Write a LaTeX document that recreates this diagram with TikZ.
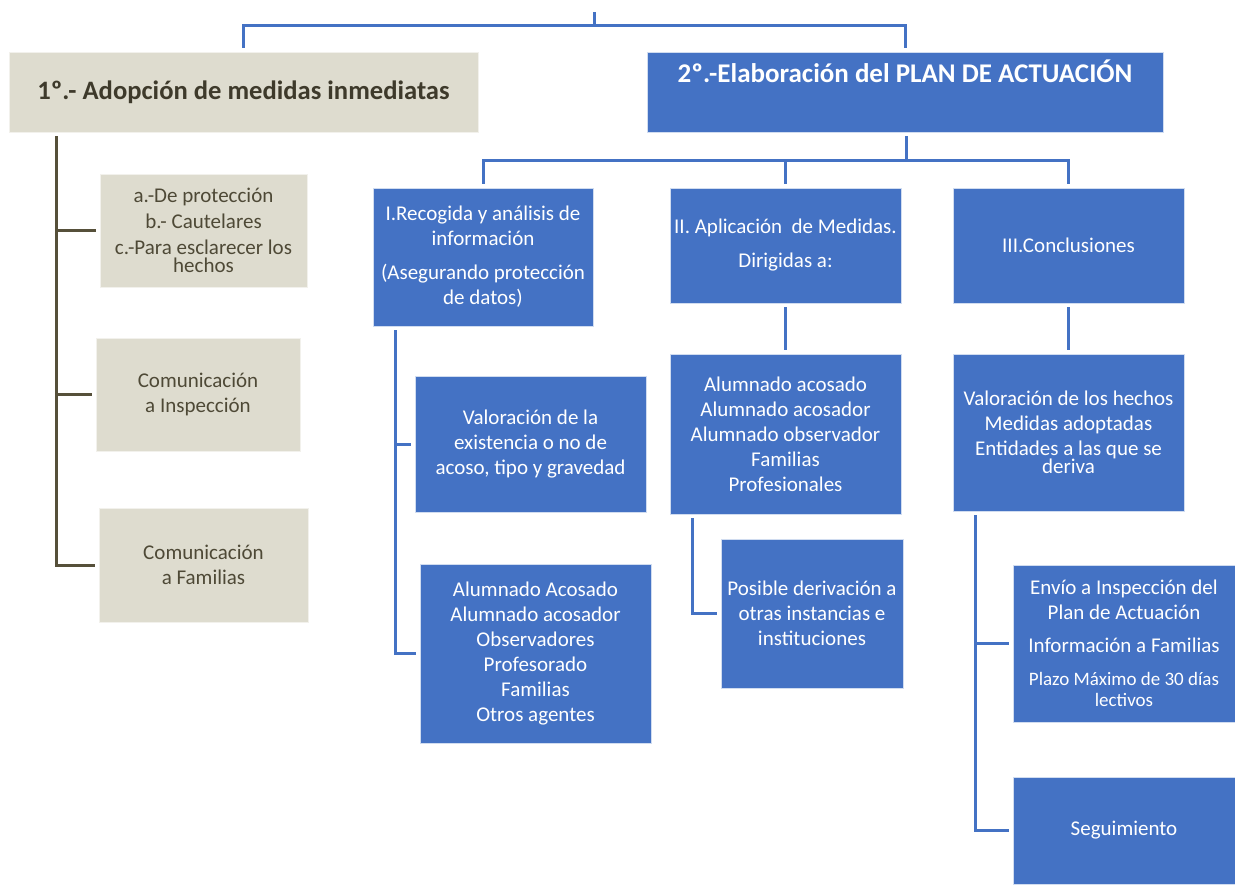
\documentclass[tikz,border=0pt]{standalone}
\usepackage{fontspec}
\setmainfont{Carlito}
\begin{document}
\begin{tikzpicture}[x=0.5pt,y=-0.5pt]
            \definecolor{box_blue}{RGB}{68,114,196}
            \definecolor{box_tan}{RGB}{222,220,207}
            \definecolor{tan_text}{RGB}{78,73,54}
            \definecolor{tan_line}{RGB}{86,80,58}
            \tikzstyle{every node} = [shape=rectangle, inner sep=0pt, align=center, font=\fontsize{10.5}{12.5}\selectfont]
            \tikzstyle{blue_box} = [fill=box_blue, draw=white!75!box_blue, line width=0.4pt, text=white]
            \tikzstyle{tan_box} = [fill=box_tan, draw=white!60!box_tan, line width=0.4pt, text=tan_text]
            \tikzstyle{blue_line} = [draw=box_blue, line width=1.5pt, shorten >=2pt]
            \tikzstyle{tan_line} = [draw=tan_line, line width=1.5pt, shorten >=2pt]
            \useasboundingbox (0,0) rectangle (1235,884);
            % first level
            \node[tan_box, minimum width=234.5pt, minimum height=40pt, font=\fontsize{13.3}{15}\selectfont\bfseries, text=tan_text!80!black] (m1) at (243.5,92) {1º.- Adopción de medidas inmediatas};
            \node[blue_box, minimum width=258pt, minimum height=40pt, text height=15pt, text depth=25pt, font=\fontsize{13.5}{15}\selectfont\bfseries] (m2) at (905,92) {2º.-Elaboración del PLAN DE ACTUACIÓN};
            % left column
            \node[tan_box, minimum width=103.5pt, minimum height=56.5pt] (a1) at (203.5,230.5) {a.-De protección\\[0.5pt] b.- Cautelares\\[0.5pt] c.-Para esclarecer los\\[-3.5pt] hechos};
            \node[tan_box, minimum width=102pt, minimum height=56.5pt] (b1) at (198,394.5) {Comunicación\\ a Inspección};
            \node[tan_box, minimum width=104.5pt, minimum height=57pt] (f1) at (203.5,565) {Comunicación\\ a Familias};
            % second level
            \node[blue_box, minimum width=110pt, minimum height=69pt] (s1) at (483,257) {I.Recogida y análisis de\\ información\\[4.5pt] (Asegurando protección\\ de datos)};
            \node[blue_box, minimum width=115.5pt, minimum height=57.5pt] (s2) at (785.5,245.5) {II. Aplicación~ de Medidas.\\[4.5pt] Dirigidas a:};
            \node[blue_box, minimum width=115.5pt, minimum height=57.5pt] (s3) at (1068.5,245.5) {III.Conclusiones};
            % under I
            \node[blue_box, minimum width=115.5pt, minimum height=68pt] (v1) at (530.5,444) {Valoración de la\\ existencia o no de\\ acoso, tipo y gravedad};
            \node[blue_box, minimum width=115.5pt, minimum height=89.5pt] (v2) at (535.5,653.5) {Alumnado Acosado\\ Alumnado acosador\\ Observadores\\ Profesorado\\ Familias\\ Otros agentes};
            % under II
            \node[blue_box, minimum width=115.5pt, minimum height=80pt] (l2) at (785.5,434) {Alumnado acosado\\ Alumnado acosador\\ Alumnado observador\\ Familias\\ Profesionales};
            \node[blue_box, minimum width=91pt, minimum height=74.5pt] (d2) at (812,613.5) {Posible derivación a\\ otras instancias e\\ instituciones};
            % under III
            \node[blue_box, minimum width=115.5pt, minimum height=78.5pt] (c3) at (1068.5,432.5) {Valoración de los hechos\\ Medidas adoptadas\\ Entidades a las que se\\[-3.5pt] deriva};
            \node[blue_box, minimum width=111pt, minimum height=78.5pt] (e3) at (1124,643.5) {Envío a Inspección del\\ Plan de Actuación\\[4pt] Información a Familias\\[4pt] {\fontsize{9.5}{10.5}\selectfont Plazo Máximo de 30 días}\\[-2pt] {\fontsize{9.5}{10.5}\selectfont lectivos}};
            \node[blue_box, minimum width=111pt, minimum height=53.5pt] (g3) at (1124,830.5) {Seguimiento};
            % connectors
            \coordinate (top) at (594,12);
            \coordinate (bar) at (594,25);
            \draw[blue_line, shorten >=0pt] (top) -- (bar);
            \draw[blue_line] (bar) -| (m1);
            \draw[blue_line] (bar) -| (m2);
            \coordinate (lt) at (56,136);
            \draw[tan_line] (lt) |- (a1);
            \draw[tan_line] (lt) |- (b1);
            \draw[tan_line] (lt) |- (f1);
            \coordinate (hb) at (906,160);
            \draw[blue_line, shorten <=2pt, shorten >=0pt] (m2.south -| hb) -- (hb);
            \draw[blue_line] (hb) -| (s1);
            \draw[blue_line] (hb) -| (s2);
            \draw[blue_line] (hb) -| (s3);
            \coordinate (t1) at (395,330);
            \draw[blue_line] (t1) |- (v1);
            \draw[blue_line] (t1) |- (v2);
            \draw[blue_line, shorten <=2pt] (s2) -- (l2);
            \draw[blue_line, shorten <=2pt] (s3) -- (c3);
            \coordinate (t2) at (692,518);
            \draw[blue_line] (t2) |- (d2);
            \coordinate (t3) at (975,515);
            \draw[blue_line] (t3) |- (e3);
            \draw[blue_line] (t3) |- (g3);
        \end{tikzpicture}
\end{document}
